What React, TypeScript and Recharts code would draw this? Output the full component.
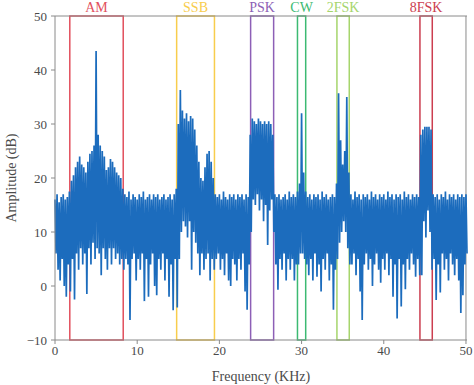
import { LineChart, Line, XAxis, YAxis, ReferenceArea, ReferenceLine } from 'recharts';

// spectrum, one upper/lower pair every 0.25 kHz
const STEP = 0.25;
const upper = [
  16, 17, 15.5, 16.5, 17, 16, 16.5, 17.5, 19.5, 20.5,
  22, 23, 24, 22.5, 22, 21, 23, 24.5, 25, 26,
  43.5, 28, 26, 25, 24, 21.5, 22, 23.5, 23, 22,
  21, 20.5, 20, 18, 17, 16.5, 17.5, 16, 17, 16.5,
  16, 17, 16.5, 17.5, 16, 16.5, 17, 16, 17, 16.5,
  17, 16, 16.5, 17, 16, 16.5, 17, 16, 17, 18,
  30, 36.3, 32.5, 31, 32, 30.5, 31.5, 31, 29, 26,
  23, 20, 19.5, 22, 24.5, 25, 23, 20, 17, 16.5,
  17, 16, 17.5, 16.5, 16, 17, 16.5, 17, 16, 17,
  16.5, 17, 16, 17, 16.5, 28, 31, 30.5, 30, 31,
  30.5, 30, 30.5, 30, 30.5, 30, 28, 17, 16.5, 17,
  16, 16.5, 17, 16, 17.5, 16.5, 17, 16.5, 17.5, 19,
  32, 21, 17.5, 16.5, 17, 16, 17, 16.5, 17, 16,
  17.5, 16.5, 17, 16, 16.5, 17, 16.5, 19, 35.7, 27,
  22.5, 25, 35, 21, 17, 16, 17.5, 16.5, 17, 16,
  17, 16.5, 17, 16, 17.5, 16.5, 17, 16, 17, 16.5,
  17, 16, 17.5, 16.5, 17, 16, 17, 16.5, 17, 16,
  17.5, 16.5, 17, 16, 17, 16.5, 17, 16.5, 28, 29,
  29.5, 29.5, 29.5, 29, 17, 16.5, 17, 16, 17, 16.5,
  17.5, 16, 17, 16.5, 17, 16, 17, 16.5, 17, 16.5,
  17,
];
const lower = [
  6, 3, 1, 5, 0, -2, 4, -1, 5, -2.5,
  6, 3, 7, 4, 6, -1.5, 7, 4, 8, 5,
  7, 6, 2, 7, 5, 3, 7, 4, 7, 5,
  6, 4, 5, 3, 5, 4, -6.3, 5, 6, 1,
  5, 3, 6, -2.8, 5, -2, 4, 6, 0, -1.7,
  5, 3, 6, 1, 5, -2, 4, -4.5, 5, -4,
  5, 10, 12, 11, 9, 12, 3, 10, 8, 6,
  2, 6, 3, 5, 6, 1, 5, 3, 5, 6,
  3, 5, 2, 6, 1, 0, 5, 4, 1, 5,
  3, 6, -1, -4.4, 4, 10, 16, 15, 17, 14,
  16, 12, 15, 7.6, 14, 16, 10, 4, -0.7, 5,
  3, 6, 1, 5, 3, 5, 1, 4, 4, 6,
  6, 5, 4, 2, 5, 1, 6, 1.7, 4, -1,
  5, 3, 6, 1, 4, -4.4, 3, 5, 8, 10,
  12, 10, 7, 4, 4, 6, 2, 5, -1, -6.3,
  4, 6, 3, 5, 0, 4, 6, 3, 0.6, 5,
  3, 6, 2, 5, -2, 4, -6, 5, -3.8, 4,
  -0.6, 5, 3, 6, 4, 1.7, 5, 2, 2, 12,
  9, 14, 10, 3, 5, -2.6, 4, -1.2, 6, 3,
  5, 1, 6, 4, 2, 5, 1, -5, -1.7, 4,
  6,
];

const spectrum = upper.flatMap((hi, i) => [
  { f: i * STEP, amp: hi },
  { f: i * STEP + STEP / 2, amp: lower[i] },
]);

const bandNames = ['AM', 'SSB', 'PSK', 'CW', '2FSK', '8FSK'];
const bandFrom = [1.8, 14.8, 23.8, 29.5, 34.3, 44.4];
const bandTo = [8.3, 19.4, 26.6, 30.5, 35.8, 45.9];

const xTicks = [0, 10, 20, 30, 40, 50];
const yTicks = [-10, 0, 10, 20, 30, 40, 50];

const BAND_COLORS: Record<string, string> = {
  AM: '#e2505d',
  SSB: '#f8cd4c',
  PSK: '#8d5fb6',
  CW: '#3cba72',
  '2FSK': '#a6d56c',
  '8FSK': '#cc3e50',
};

const SERIF = '"Liberation Serif", "DejaVu Serif", serif';
const AXIS = '#8a8a8a';
const TEXT = '#4a4a4a';

const fmtTick = (v: number) => (v < 0 ? `\u2212${Math.abs(v)}` : `${v}`);

export default function App() {
  return (
    <div style={{ position: 'absolute', left: 0, top: 0 }}>
      <LineChart
        width={474}
        height={385}
        data={spectrum}
        margin={{ top: 16, right: 7, bottom: 15, left: 5 }}
      >
        <XAxis
          dataKey="f"
          type="number"
          domain={[0, 50]}
          ticks={xTicks}
          tickSize={4}
          stroke={AXIS}
          height={30}
          tick={{ fill: TEXT, fontSize: 13, fontFamily: SERIF }}
          label={{
            content: ({ viewBox }: any) => (
              <text
                x={viewBox.x + viewBox.width / 2}
                y={viewBox.y + 41}
                textAnchor="middle"
                fill={TEXT}
                fontSize={14}
                fontFamily={SERIF}
              >
                Frequency (KHz)
              </text>
            ),
          }}
        />
        <YAxis
          type="number"
          domain={[-10, 50]}
          ticks={yTicks}
          tickFormatter={fmtTick}
          tickSize={4}
          tickMargin={4}
          width={50}
          stroke={AXIS}
          tick={{ fill: TEXT, fontSize: 13, fontFamily: SERIF }}
          label={{
            content: ({ viewBox }: any) => {
              const cx = 16;
              const cy = viewBox.y + viewBox.height / 2;
              return (
                <text
                  x={cx}
                  y={cy}
                  transform={`rotate(-90 ${cx} ${cy})`}
                  textAnchor="middle"
                  fill={TEXT}
                  fontSize={14}
                  fontFamily={SERIF}
                >
                  Amplitude (dB)
                </text>
              );
            },
          }}
        />
        <ReferenceLine y={50} stroke={AXIS} />
        <ReferenceLine x={50} stroke={AXIS} />
        <Line
          dataKey="amp"
          type="linear"
          stroke="#1c6cbd"
          strokeWidth={1.7}
          strokeLinejoin="miter"
          dot={false}
          isAnimationActive={false}
        />
        {bandNames.map((name, i) => (
          <ReferenceArea
            key={name}
            x1={bandFrom[i]}
            x2={bandTo[i]}
            y1={-10}
            y2={50}
            fill="none"
            stroke={BAND_COLORS[name]}
            strokeWidth={1.5}
            label={{
              value: name,
              position: 'top',
              offset: 4,
              fill: BAND_COLORS[name],
              fontSize: 14,
              fontFamily: SERIF,
            }}
          />
        ))}
      </LineChart>
    </div>
  );
}
